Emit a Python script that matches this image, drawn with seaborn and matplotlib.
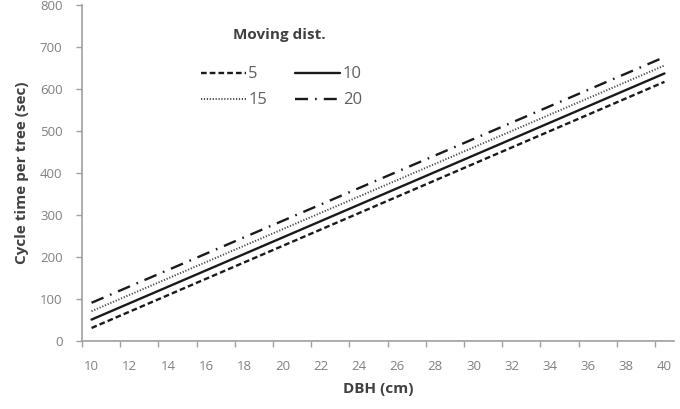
import numpy as np
import matplotlib.pyplot as plt
import pandas as pd
import seaborn as sns

# values (straight lines, end points)
dbh = [10, 40]
dist_labels = ["5", "10", "15", "20"]
time_5 = [31, 617]
time_10 = [51, 637]
time_15 = [71, 656]
time_20 = [91, 676]

df = pd.DataFrame({
    "DBH": dbh * 4,
    "time": time_5 + time_10 + time_15 + time_20,
    "dist": [d for d in dist_labels for _ in dbh],
})

sns.set_style("white")
plt.rcParams["font.family"] = ["Open Sans", "DejaVu Sans"]

fig = plt.figure(figsize=(6.8, 4.09), dpi=100)
ax = fig.add_axes([82 / 680, 68 / 409, 592 / 680, 336 / 409])

dash_map = {"5": (2.4, 1.3), "10": "", "15": (0.6, 0.9), "20": (5.5, 3, 0.7, 3)}
sns.lineplot(data=df, x="DBH", y="time", hue="dist", style="dist",
             hue_order=dist_labels, style_order=dist_labels,
             palette=["#1a1a1a"] * 4, dashes=dash_map, linewidth=1.7,
             ax=ax, legend=False)
# the dotted series is thinner and lighter
ax.get_lines()[2].set_linewidth(1.4)
ax.get_lines()[2].set_color("#444444")

ax.set_xlim(9.5, 40.5)
ax.set_ylim(0, 800)
ax.set_xticks(range(10, 41, 2))
ax.set_xticks(np.arange(9.5, 40, 2), minor=True)
ax.set_yticks(range(0, 801, 100))

for s in ["top", "right"]:
    ax.spines[s].set_visible(False)
for s in ["left", "bottom"]:
    ax.spines[s].set_color("#a0a0a0")
    ax.spines[s].set_linewidth(1.2)

ax.tick_params(axis="x", which="major", length=0, pad=14, labelsize=9.5, labelcolor="#808080")
ax.tick_params(axis="x", which="minor", bottom=True, length=4, width=1, color="#a0a0a0")
ax.tick_params(axis="y", left=True, length=4, width=1, color="#a0a0a0",
               pad=10, labelsize=9.5, labelcolor="#808080")

ax.set_xlabel("DBH (cm)", fontsize=11, fontweight="bold", color="#404040", labelpad=6)
ax.set_ylabel("Cycle time per tree (sec)", fontsize=11, fontweight="bold", color="#404040", labelpad=8)

# legend drawn with the same line styles; 5,10 on first row, 15,20 on second
handles = []
for line, lab in zip(ax.get_lines(), dist_labels):
    h = plt.Line2D([], [])
    h.update_from(line)
    h.set_label(lab)
    handles.append(h)
order = [0, 2, 1, 3]
leg = ax.legend([handles[i] for i in order], [dist_labels[i] for i in order],
                ncol=2, frameon=False,
                loc="upper left", bbox_to_anchor=(0.175, 0.862),
                fontsize=12, handlelength=2.7, handletextpad=0.15,
                columnspacing=1.7, labelspacing=0.6)
for t in leg.get_texts():
    t.set_color("#606060")
ax.text(0.334, 0.912, "Moving dist.", transform=ax.transAxes, ha="center", va="center",
        fontsize=11, fontweight="bold", color="#404040")

fig.savefig("out.png", dpi=100)
